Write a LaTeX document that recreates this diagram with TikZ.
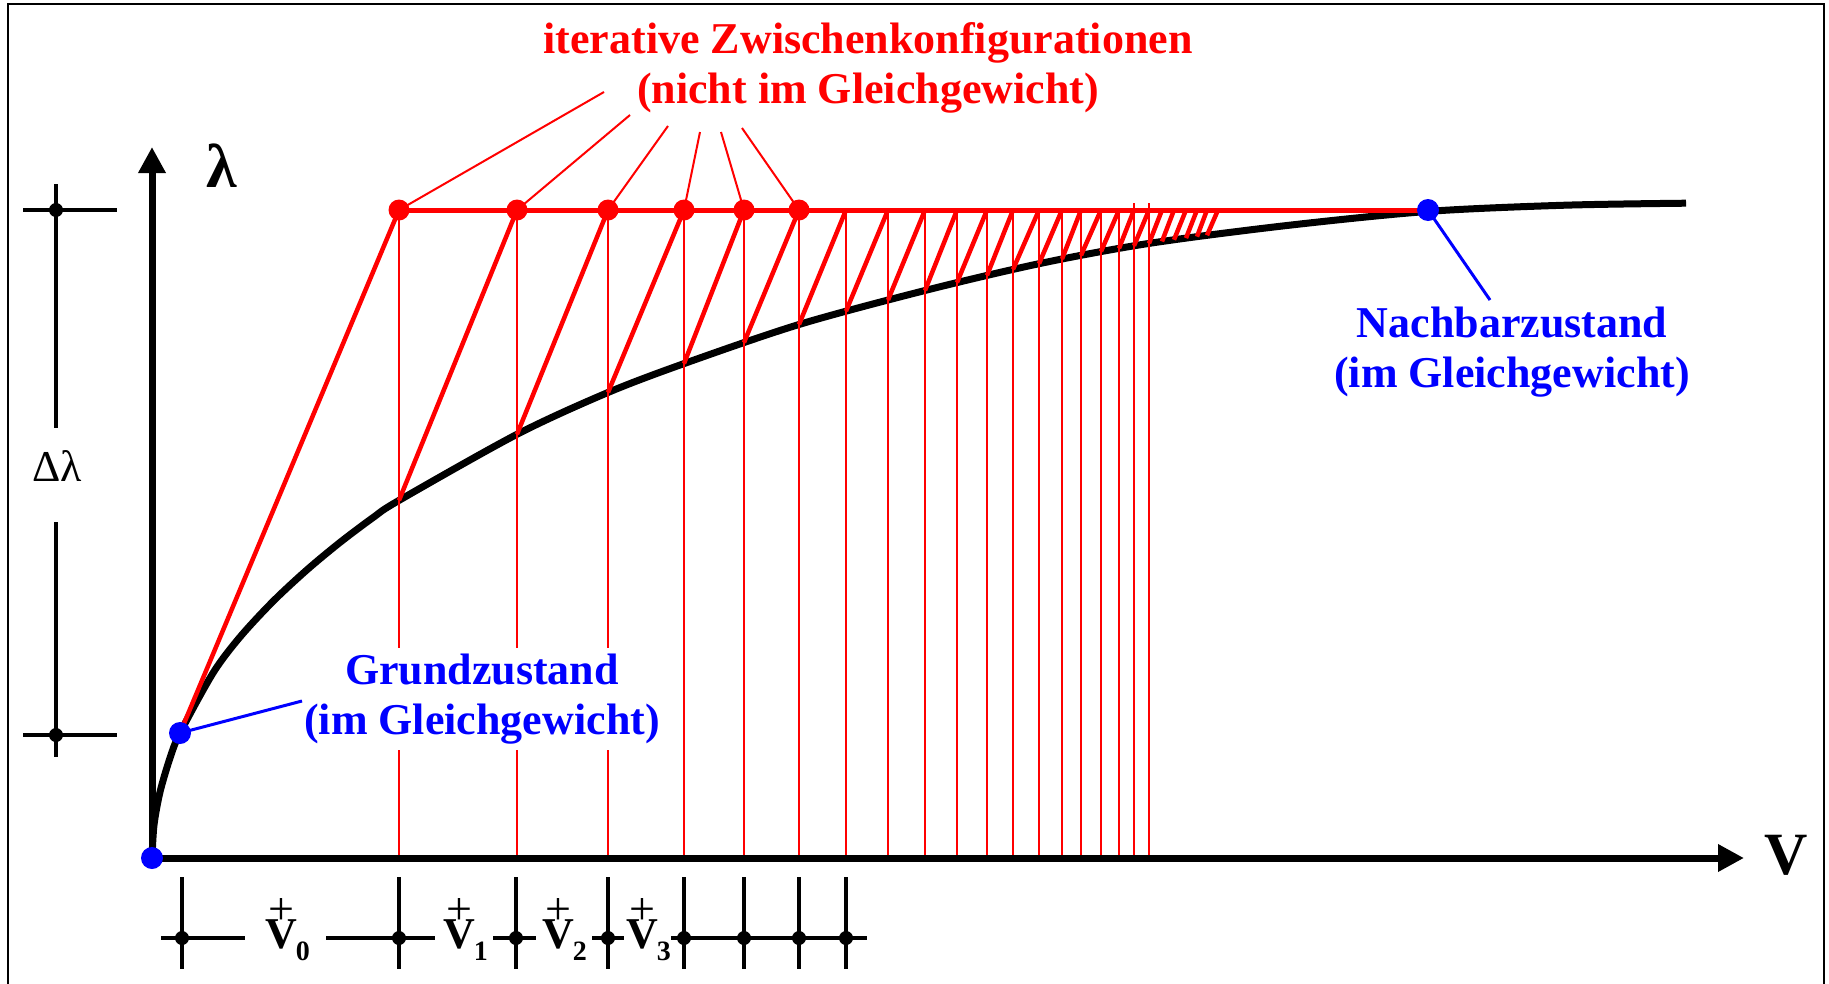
\documentclass[tikz,border=0pt]{standalone}
\usepackage{fontspec}
\setmainfont{Liberation Serif}
\usetikzlibrary{arrows.meta,intersections}
\newcommand{\vplabel}[1]{\leavevmode\vbox{\offinterlineskip\halign{\hfil##\hfil\cr{\fontsize{46}{46}\mdseries\selectfont +}\cr\noalign{\kern-5pt}V\cr}}\kern-1pt\raisebox{-12pt}{\fontsize{28}{28}\selectfont #1}}
\begin{document}
\begin{tikzpicture}[x=1pt,y=-1pt,
  lbl/.style={font=\fontsize{44}{50}\selectfont\bfseries, align=center, inner sep=0pt},
  redlbl/.style={lbl, text=red},
  bluelbl/.style={lbl, text=blue},
  axis/.style={line width=7pt, -{Triangle[length=26pt,width=26pt]}},
  curvestyle/.style={line width=7pt},
  vert/.style={red, line width=2pt},
  diag/.style={red, line width=4.5pt},
  topline/.style={red, line width=5pt},
  rdot/.style={circle, fill=red, inner sep=0pt, minimum size=21pt},
  bdot/.style={circle, fill=blue, inner sep=0pt, minimum size=22pt},
  rconn/.style={red, line width=2pt},
  bconn/.style={blue, line width=3pt},
  dim/.style={line width=3.5pt},
  ddot/.style={circle, fill=black, inner sep=0pt, minimum size=14pt},
  vsym/.style={font=\fontsize{44}{50}\selectfont\bfseries, inner sep=0pt, anchor=base west},
]
\useasboundingbox (0,0) rectangle (1829,983);
\clip (0,0) rectangle (1829,983);
\draw[line width=2.5pt] (8,4) rectangle (1824,1000);

% key coordinates
\coordinate (O) at (152,858);
\coordinate (ytip) at (152,147);
\coordinate (xtip) at (1744,858);
\coordinate (G) at (180,733);
\coordinate (N) at (1428,210);
\foreach \x [count=\i] in {399,517,608,684,744,799,846,888,925,957,987,1013,1039,1062,1081,1101,1119,1134,1149,1162,1174,1186,1197,1207,1218}
  {\coordinate (t\i) at (\x,210);}

% equilibrium curve
\draw[curvestyle, name path=curve] plot[smooth] coordinates {
  (152,858) (154,825) (160,792) (170,758) (180,733) (213,673) (240,637)
  (273,601.4) (307,569.8) (340,542.4) (373,517.6) (399,500.4) (517,434.3)
  (607,392.9) (684,363.6) (799,324.5) (925,290.5) (1039,263.7) (1149,243.4)
  (1286,225.6) (1428,211.4) (1565,205.2) (1686,203.2)};

% intersections of verticals with the curve
\foreach \x [count=\i] in {399,517,608,684,744,799,846,888,925,957,987,1013,1039,1062,1081,1101,1119,1134,1149,1162,1174,1186,1197,1207} {
  \path[name path=vl] (\x,150) -- (\x,870);
  \path[name intersections={of=curve and vl, by={c\i}}];
}

% red vertical lines
\foreach \i in {1,...,17} {\draw[vert] (t\i |- O) -- (t\i);}
\draw[vert] (t18 |- O) -- ++(0,-655);
\draw[vert] (t19 |- O) -- ++(0,-655);

% red diagonals
\draw[diag] (G) -- (t1);
\foreach \i in {1,...,24} {\pgfmathtruncatemacro\j{\i+1}\draw[diag] (c\i) -- (t\j);}

% red top line
\draw[topline] (t1) -- (N);

% axes
\draw[axis] (O) -- (ytip);
\draw[axis] (O) -- (xtip);
\node[font=\fontsize{62}{62}\selectfont\bfseries, inner sep=0pt] (lam) at (222,166) {λ};
\node[font=\fontsize{60}{60}\selectfont\bfseries, inner sep=0pt] (vlab) at (1786,855) {V};

% labels
\node[redlbl] (title) at (868,68) {iterative Zwischenkonfigurationen\\(nicht im Gleichgewicht)};
\node[bluelbl, fill=white, inner sep=6pt] (grund) at (482,699) {Grundzustand\\(im Gleichgewicht)};
\node[bluelbl] (nach) at (1512,352) {Nachbarzustand\\(im Gleichgewicht)};

% red connectors
\coordinate (a1) at (604,92);
\coordinate (a2) at (630,115);
\coordinate (a3) at (668,126);
\coordinate (a4) at (700,132);
\coordinate (a5) at (721,132);
\coordinate (a6) at (742,128);
\foreach \i in {1,...,6} {\draw[rconn] (t\i) -- (a\i);}

% blue connectors
\coordinate (gend) at (302,701);
\coordinate (nend) at (1490,300);
\draw[bconn] (G) -- (gend);
\draw[bconn] (N) -- (nend);

% dots
\foreach \i in {1,...,6} {\node[rdot] (rd\i) at (t\i) {};}
\node[bdot] (bO) at (O) {};
\node[bdot] (bG) at (G) {};
\node[bdot] (bN) at (N) {};

% left dimension (Delta lambda)
\node[font=\fontsize{44}{44}\selectfont, inner sep=0pt] (dl) at (57,466) {Δλ};
\coordinate (L1) at (56,210);
\coordinate (L2) at (56,735);
\draw[dim] (56,184) -- (56,428);
\draw[dim] (56,522) -- (56,757);
\draw[dim] (23,210) -- (117,210);
\draw[dim] (23,735) -- (117,735);
\node[ddot] (ld1) at (L1) {};
\node[ddot] (ld2) at (L2) {};

% bottom dimension
\foreach \x [count=\i] in {182,399,516,608,684,744,799,846} {
  \draw[dim] (\x,877) -- (\x,969);
  \node[ddot] (bd\i) at (\x,938) {};
}
\draw[dim] (161,938) -- (245,938);
\draw[dim] (326,938) -- (435,938);
\draw[dim] (493,938) -- (536,938);
\draw[dim] (592,938) -- (624,938);
\draw[dim] (671,938) -- (867,938);
\foreach \x/\n in {265/0, 443/1, 542/2, 626/3} {
  \node[vsym] (v\n) at (\x,948) {\vplabel{\n}};
}
\end{tikzpicture}
\end{document}
